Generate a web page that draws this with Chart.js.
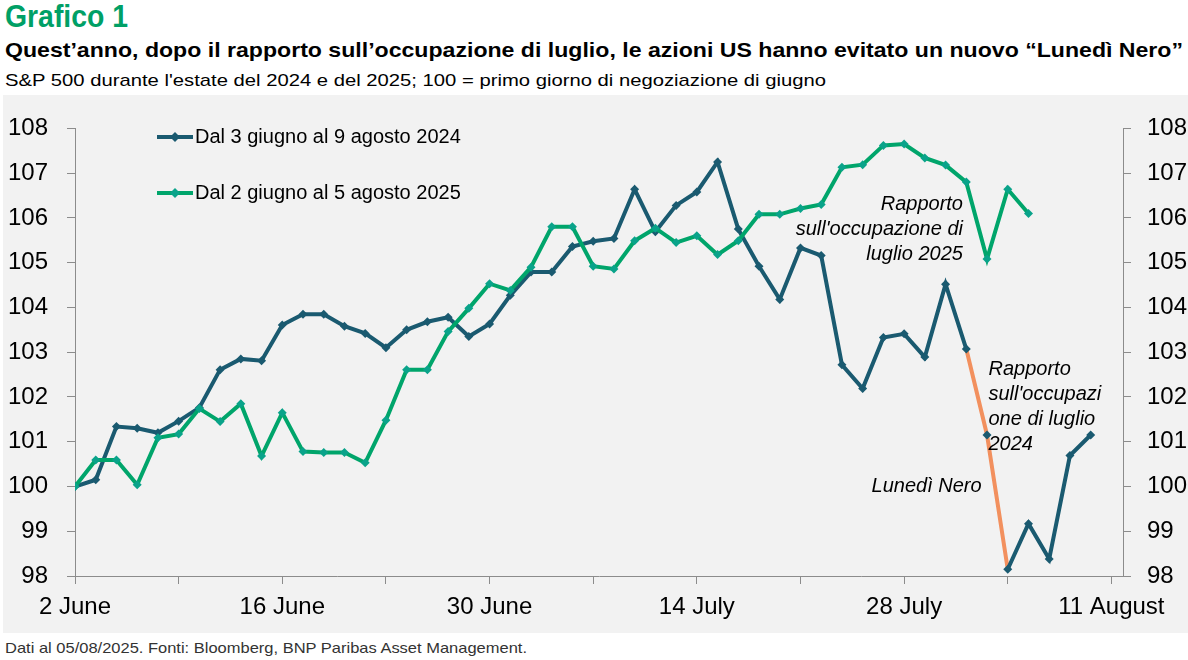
<!DOCTYPE html>
<html>
<head>
<meta charset="utf-8">
<script src="https://cdn.jsdelivr.net/npm/chart.js@4.4.1/dist/chart.umd.min.js"></script>
<style>
  body {
    margin: 0;
    width: 1188px;
    height: 660px;
    background: #fff;
    font-family: "Liberation Sans", Arial, sans-serif;
    position: relative;
    overflow: hidden;
  }
  .fit {
    position: absolute;
    left: 5px;
    white-space: nowrap;
    transform-origin: 0 0;
  }
  #kicker { top: -2px; font-size: 32px; font-weight: bold; color: #00a066; }
  #title { top: 38px; font-size: 21px; font-weight: bold; color: #000; }
  #subtitle { top: 71px; font-size: 17px; color: #000; }
  #source { top: 639px; font-size: 15px; color: #333; }
  #panel {
    position: absolute;
    left: 3px;
    top: 95px;
    width: 1185px;
    height: 538px;
    background: #f2f2f2;
  }
</style>
</head>
<body>
<div class="fit" id="kicker" data-w="123">Grafico 1</div>
<div class="fit" id="title" data-w="1178">Quest’anno, dopo il rapporto sull’occupazione di luglio, le azioni US hanno evitato un nuovo “Lunedì Nero”</div>
<div class="fit" id="subtitle" data-w="821">S&amp;P 500 durante l'estate del 2024 e del 2025; 100 = primo giorno di negoziazione di giugno</div>
<div id="panel"><canvas id="chart" width="1185" height="538"></canvas></div>
<div class="fit" id="source" data-w="522">Dati al 05/08/2025. Fonti: Bloomberg, BNP Paribas Asset Management.</div>

<script>
// S&P 500 rebased, one point per weekday from the first trading day of June
const series2024 = [
  100, 100.15, 101.34, 101.30, 101.20, 101.46, 101.76, 102.61, 102.85, 102.81,
  103.61, 103.85, 103.85, 103.58, 103.42, 103.10, 103.50, 103.68, 103.78, 103.35,
  103.63, 104.27, 104.79, 104.79, 105.36, 105.48, 105.54, 106.64, 105.69, 106.28,
  106.58, 107.25, 105.75, 104.92, 104.18, 105.33, 105.16, 102.72, 102.19, 103.33,
  103.41, 102.89, 104.52, 103.07, 101.15, 98.15, 99.17, 98.38, 100.69, 101.15,
];
const series2025 = [
  100, 100.59, 100.59, 100.04, 101.09, 101.17, 101.74, 101.45, 101.85, 100.68,
  101.65, 100.78, 100.76, 100.76, 100.53, 101.48, 102.61, 102.61, 103.46, 103.98,
  104.53, 104.38, 104.90, 105.80, 105.80, 104.92, 104.86, 105.49, 105.77, 105.45,
  105.60, 105.18, 105.49, 106.08, 106.08, 106.21, 106.30, 107.13, 107.19, 107.62,
  107.65, 107.34, 107.18, 106.80, 105.08, 106.64, 106.10,
];
const seriesNames = ["Dal 3 giugno al 9 agosto 2024", "Dal 2 giugno al 5 agosto 2025"];
const xTickLabels = ["2 June", "16 June", "30 June", "14 July", "28 July", "11 August"];
// 2024 segments from Aug 1 to Aug 5 (jobs report -> Black Monday)
const crashSegments = [43, 44];

const BLUE = "#1a5a70";
const GREEN = "#00a56b";
const GREEN_PT = "#0aa38a";
const ORANGE = "#f2905e";
const AXIS = "#8c8c8c";

const notes = [
  { lines: ["Rapporto", "sull'occupazione di", "luglio 2025"], x: 42.84, y: 106.3, align: "right" },
  { lines: ["Rapporto", "sull'occupazi", "one di luglio", "2024"], x: 44.07, y: 102.61, align: "left" },
  { lines: ["Lunedì Nero"], x: 43.74, y: 100.0, align: "right" },
];

function toPoints(values) {
  return values.map((v, i) => ({ x: i, y: v }));
}

// squeeze the header texts to the width they have in the original
document.querySelectorAll(".fit").forEach((el) => {
  const target = Number(el.dataset.w);
  const w = el.getBoundingClientRect().width;
  if (w > 0) el.style.transform = `scaleX(${target / w})`;
});

const legendAndNotes = {
  id: "legendAndNotes",
  afterDraw(chart) {
    const c = chart.ctx;
    c.save();
    // legend, stacked vertically in the top left corner
    const rows = [
      { color: BLUE, pt: BLUE, y: 42 },
      { color: GREEN, pt: GREEN_PT, y: 98 },
    ];
    rows.forEach((row, i) => {
      c.strokeStyle = row.color;
      c.lineWidth = 4;
      c.beginPath();
      c.moveTo(154, row.y);
      c.lineTo(190, row.y);
      c.stroke();
      c.fillStyle = row.pt;
      c.beginPath();
      c.moveTo(172, row.y - 5);
      c.lineTo(177, row.y);
      c.lineTo(172, row.y + 5);
      c.lineTo(167, row.y);
      c.closePath();
      c.fill();
      c.fillStyle = "#000";
      c.font = '20px "Liberation Sans", Arial, sans-serif';
      c.textAlign = "left";
      c.textBaseline = "middle";
      c.fillText(seriesNames[i], 192, row.y);
    });

    // annotations, anchored on the data scales
    const xs = chart.scales.x;
    const ys = chart.scales.y;
    c.font = 'italic 20px "Liberation Sans", Arial, sans-serif';
    c.fillStyle = "#000";
    c.textBaseline = "middle";
    notes.forEach((n) => {
      const px = xs.getPixelForValue(n.x);
      const py = ys.getPixelForValue(n.y);
      c.textAlign = n.align;
      n.lines.forEach((line, k) => c.fillText(line, px, py + k * 25));
    });
    c.restore();
  },
};

const tickFont = { family: '"Liberation Sans", Arial, sans-serif', size: 24 };

function yScale(position, pad, width) {
  return {
    type: "linear",
    position: position,
    min: 98,
    max: 108,
    grid: { drawOnChartArea: false, drawTicks: true, tickLength: 8, color: AXIS },
    border: { display: true, color: AXIS, width: 1 },
    ticks: { stepSize: 1, font: tickFont, color: "#000", padding: pad },
    afterFit: (s) => {
      s.width = width;
    },
  };
}

const ctx = document.getElementById("chart").getContext("2d");

new Chart(ctx, {
  type: "line",
  data: {
    datasets: [
      {
        label: seriesNames[0],
        data: toPoints(series2024),
        borderColor: BLUE,
        backgroundColor: BLUE,
        pointBackgroundColor: BLUE,
        borderWidth: 4,
        pointStyle: "rectRot",
        pointRadius: 4.5,
        pointBorderWidth: 0,
        tension: 0,
        order: 1,
        segment: {
          borderColor: (sc) => (crashSegments.includes(sc.p0DataIndex) ? ORANGE : undefined),
        },
      },
      {
        label: seriesNames[1],
        data: toPoints(series2025),
        borderColor: GREEN,
        backgroundColor: GREEN_PT,
        pointBackgroundColor: GREEN_PT,
        borderWidth: 4,
        pointStyle: "rectRot",
        pointRadius: 4.5,
        pointBorderWidth: 0,
        tension: 0,
        order: 0,
      },
    ],
  },
  options: {
    responsive: false,
    animation: false,
    layout: {
      padding: { top: 30, left: 0, right: 0, bottom: 0 },
    },
    plugins: {
      legend: { display: false },
      tooltip: { enabled: false },
    },
    scales: {
      x: {
        type: "linear",
        min: 0,
        max: 50.56,
        grid: { drawOnChartArea: false, drawTicks: true, tickLength: 8, color: AXIS },
        border: { display: true, color: AXIS, width: 1 },
        afterBuildTicks: (s) => {
          const t = [];
          for (let v = 0; v <= (xTickLabels.length - 1) * 10; v += 5) t.push({ value: v });
          s.ticks = t;
        },
        ticks: {
          autoSkip: false,
          maxRotation: 0,
          font: tickFont,
          color: "#000",
          padding: 9,
          callback: (v) => (v % 10 === 0 ? xTickLabels[v / 10] : ""),
        },
        afterFit: (s) => {
          s.height = 57;
        },
      },
      y: yScale("left", 19, 72),
      y2: yScale("right", 16, 65),
    },
  },
  plugins: [legendAndNotes],
});
</script>
</body>
</html>
